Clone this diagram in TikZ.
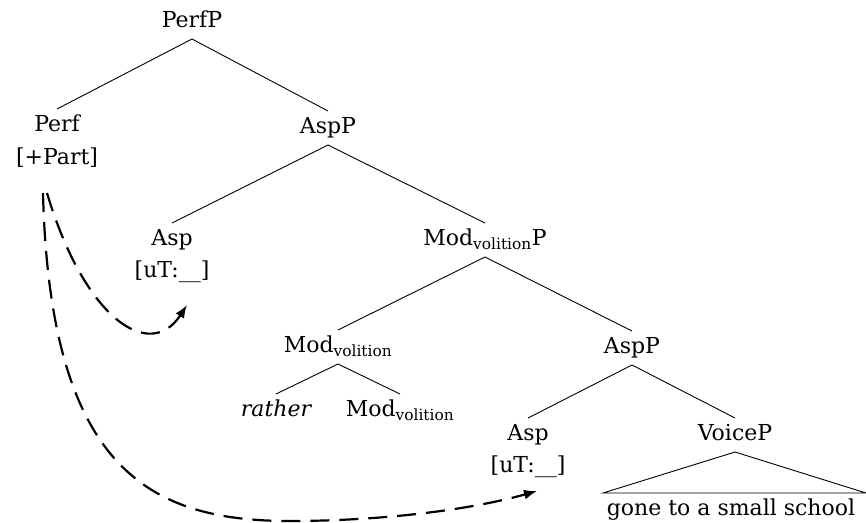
\documentclass[tikz,border=0pt]{standalone}
\usepackage{fontspec}
\setmainfont{DejaVu Serif}
\usetikzlibrary{arrows.meta}
\begin{document}
\begin{tikzpicture}[x=1pt,y=-1pt,
  lbl/.style={inner sep=0pt, outer xsep=0pt, outer ysep=7pt, text height=15pt, text depth=5pt, anchor=base, font=\fontsize{22}{26}\selectfont},
  branch/.style={line width=0.9pt},
  move/.style={line width=2.2pt, dash pattern=on 19pt off 10pt, -{Latex[length=13pt,width=10pt]}}]
\fill[white] (0,0) rectangle (866,522);
\useasboundingbox (0,0) rectangle (866,522);
% nodes
\node[lbl] (perfP) at (192,27) {PerfP};
\node[lbl] (perf) at (57,131) {Perf};
\node[lbl] (part) at (57,164) {[+Part]};
\node[lbl] (aspP1) at (328,133) {AspP};
\node[lbl] (asp1) at (172,245) {Asp};
\node[lbl] (ut1) at (172,277) {[uT:\_\_]};
\node[lbl] (modP) at (485,245) {Mod\textsubscript{volition}P};
\node[lbl] (mod1) at (338,352) {Mod\textsubscript{volition}};
\node[lbl] (rather) at (276,416) {\itshape rather};
\node[lbl] (mod2) at (400,416) {Mod\textsubscript{volition}};
\node[lbl] (aspP2) at (632,353) {AspP};
\node[lbl] (asp2) at (528,440) {Asp};
\node[lbl] (ut2) at (528,472) {[uT:\_\_]};
\node[lbl] (voiceP) at (735,440) {VoiceP};
\node[lbl] (gone) at (731,515) {gone to a small school};
\coordinate (triL) at (603,493);
\coordinate (triR) at (866,493);
% branches
\draw[branch] (perfP.south) -- (perf.north);
\draw[branch] (perfP.south) -- (aspP1.north);
\draw[branch] (aspP1.south) -- (asp1.north);
\draw[branch] (aspP1.south) -- (modP.north);
\draw[branch] (modP.south) -- (mod1.north);
\draw[branch] (modP.south) -- (aspP2.north);
\draw[branch] (mod1.south) -- (rather.north);
\draw[branch] (mod1.south) -- (mod2.north);
\draw[branch] (aspP2.south) -- (asp2.north);
\draw[branch] (aspP2.south) -- (voiceP.north);
\draw[branch] (voiceP.south) -- (triL) -- (triR) -- cycle;
% movement arrows
\coordinate (s1) at (47,193);
\coordinate (e1) at (187,305);
\coordinate (s2) at (43,193);
\coordinate (m2) at (290,521);
\coordinate (e2) at (537,491);
\draw[move] (s1) .. controls (85,320) and (150,362) .. (e1);
\draw[move] (s2) .. controls (50,470) and (150,521) .. (m2) .. controls (380,521) and (470,510) .. (e2);
\end{tikzpicture}
\end{document}
